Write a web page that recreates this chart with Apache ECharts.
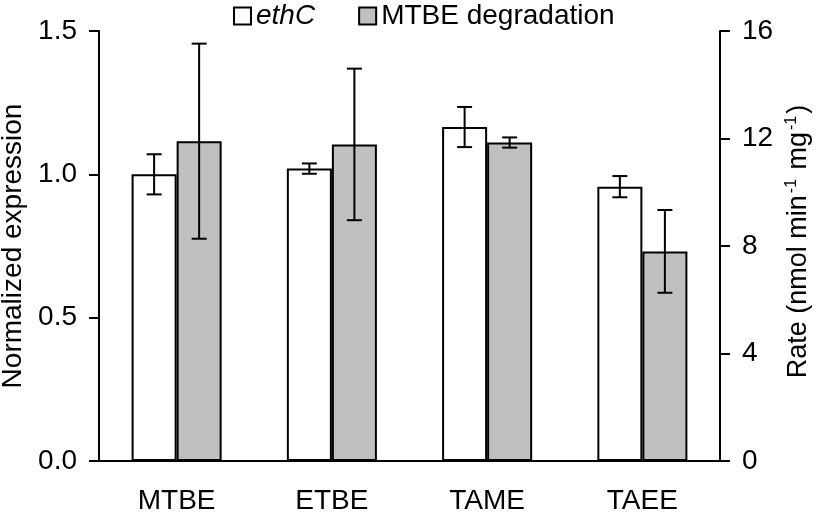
<!DOCTYPE html>
<html>
<head>
<meta charset="utf-8">
<script src="https://cdn.jsdelivr.net/npm/echarts@6/dist/echarts.min.js"></script>
<style>html,body{margin:0;padding:0;background:#fff}#c{width:816px;height:512px}</style>
</head>
<body>
<div id="c"></div>
<script>
var categories = ['MTBE', 'ETBE', 'TAME', 'TAEE'];
var ethC = [1.00, 1.02, 1.165, 0.957];
var ethCErr = [0.07, 0.018, 0.07, 0.037];
var rate = [11.9, 11.78, 11.85, 7.8];
var rateErr = [3.63, 2.82, 0.19, 1.54];
var leftTicks = [0, 0.5, 1.0, 1.5];
var rightTicks = [0, 4, 8, 12, 16];

var FONT = 'Liberation Sans, Arial, sans-serif';
var FS = 28;
var GAP = 0.42;

function errSeries(name, vals, errs, axisIdx, side) {
  return {
    type: 'custom', name: name, yAxisIndex: axisIdx, z: 10, silent: true,
    data: vals.map(function (v, i) { return [i, v, errs[i]]; }),
    renderItem: function (params, api) {
      var x = api.value(0), m = api.value(1), e = api.value(2);
      var catW = api.size([1, 0])[0];
      var barW = catW * (1 - GAP) / 2;
      var top = api.coord([x, m + e]);
      var bot = api.coord([x, m - e]);
      var cx = top[0] + side * barW / 2;
      var cap = 7.5;
      var st = { stroke: '#000', lineWidth: 2 };
      return {
        type: 'group',
        children: [
          { type: 'line', shape: { x1: cx, y1: top[1], x2: cx, y2: bot[1] }, style: st },
          { type: 'line', shape: { x1: cx - cap, y1: top[1], x2: cx + cap, y2: top[1] }, style: st },
          { type: 'line', shape: { x1: cx - cap, y1: bot[1], x2: cx + cap, y2: bot[1] }, style: st }
        ]
      };
    }
  };
}

var chart = echarts.init(document.getElementById('c'));
chart.setOption({
  animation: false,
  backgroundColor: '#fff',
  textStyle: { fontFamily: FONT, color: '#000' },
  grid: { left: 99, right: 96, top: 31, bottom: 51, containLabel: false, outerBoundsMode: 'none' },
  legend: {
    left: 233, top: 2, padding: 0,
    itemWidth: 17, itemHeight: 17, itemGap: 43,
    data: [
      { name: 'ethC', icon: 'rect', itemStyle: { color: '#fff', borderColor: '#000', borderWidth: 2 } },
      { name: 'MTBE degradation', icon: 'rect', itemStyle: { color: '#c0c0c0', borderColor: '#000', borderWidth: 2 } }
    ],
    formatter: function (n) { return n === 'ethC' ? '{i|ethC}' : n; },
    textStyle: {
      fontSize: FS, color: '#000', fontFamily: FONT,
      rich: { i: { fontStyle: 'italic', fontSize: FS, fontFamily: FONT, color: '#000' } }
    }
  },
  xAxis: {
    type: 'category', data: categories,
    axisLine: { lineStyle: { color: '#000', width: 2 } },
    axisTick: { length: 8, lineStyle: { color: '#000', width: 2 } },
    axisLabel: { fontSize: FS, color: '#000', margin: 26, fontFamily: FONT }
  },
  yAxis: [
    {
      type: 'value', min: leftTicks[0], max: leftTicks[leftTicks.length - 1], interval: 0.5,
      name: 'Normalized expression', nameLocation: 'middle', nameGap: 71,
      nameTextStyle: { fontSize: FS, color: '#000', fontFamily: FONT },
      axisLine: { show: true, lineStyle: { color: '#000', width: 2 } },
      axisTick: { show: true, length: 10, lineStyle: { color: '#000', width: 2 } },
      splitLine: { show: false },
      axisLabel: { fontSize: FS, color: '#000', margin: 22, fontFamily: FONT,
        formatter: function (v) { return v.toFixed(1); } }
    },
    {
      type: 'value', min: rightTicks[0], max: rightTicks[rightTicks.length - 1], interval: 4,
      name: '{a|Rate (nmol min}{s|-1}{a| mg}{s|-1}{a|)}', nameLocation: 'middle', nameGap: 64,
      nameRotate: 90,
      nameTextStyle: {
        fontSize: 27, color: '#000', fontFamily: FONT, padding: [0, 0, 0, 9],
        rich: {
          a: { fontSize: 27, fontFamily: FONT, color: '#000' },
          s: { fontSize: 16, fontFamily: FONT, color: '#000', verticalAlign: 'top', padding: [0, 2, 14, 2] }
        }
      },
      axisLine: { show: true, lineStyle: { color: '#000', width: 2 } },
      axisTick: { show: true, length: 10, lineStyle: { color: '#000', width: 2 } },
      splitLine: { show: false },
      axisLabel: { fontSize: FS, color: '#000', margin: 22, fontFamily: FONT }
    }
  ],
  series: [
    {
      type: 'bar', name: 'ethC', data: ethC, yAxisIndex: 0,
      barGap: '0%', barCategoryGap: (GAP * 100) + '%',
      itemStyle: { color: '#fff', borderColor: '#000', borderWidth: 2 }
    },
    {
      type: 'bar', name: 'MTBE degradation', data: rate, yAxisIndex: 1,
      barGap: '0%', barCategoryGap: (GAP * 100) + '%',
      itemStyle: { color: '#c0c0c0', borderColor: '#000', borderWidth: 2 }
    },
    errSeries('ethC err', ethC, ethCErr, 0, -1),
    errSeries('rate err', rate, rateErr, 1, 1)
  ]
});
</script>
</body>
</html>
